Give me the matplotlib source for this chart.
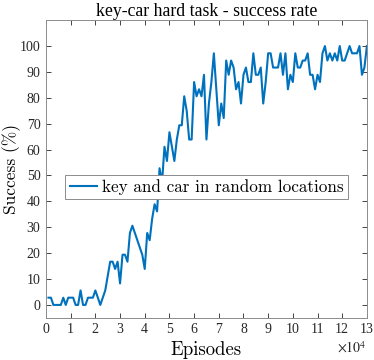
import numpy as np
import matplotlib
matplotlib.use("Agg")
import matplotlib.pyplot as plt
from matplotlib.ticker import FuncFormatter

# success rate (%), one point every 1000 episodes
episodes = np.arange(1, 131) * 1000
success = [
    2.8, 2.8, 0, 0, 0, 0, 2.8, 0, 2.8, 2.8,
    2.8, 0, 0, 5.6, 0, 0, 2.8, 2.8, 2.8, 5.6,
    2.8, 0, 2.8, 5.6, 11.1, 16.7, 16.7, 13.9, 16.7, 8.3,
    19.4, 19.4, 16.7, 27.8, 30.6, 27.8, 25.0, 22.2, 19.4, 13.9,
    27.8, 25.0, 33.3, 38.9, 36.1, 52.8, 47.2, 61.1, 55.6, 66.7,
    61.1, 55.6, 63.9, 69.4, 69.4, 80.6, 75.0, 63.9, 63.9, 86.1,
    80.6, 83.3, 80.6, 88.9, 63.9, 77.8, 86.1, 97.2, 83.3, 69.4,
    77.8, 72.2, 94.4, 88.9, 94.4, 91.7, 83.3, 86.1, 77.8, 88.9,
    91.7, 86.1, 86.1, 97.2, 88.9, 88.9, 91.7, 77.8, 86.1, 97.2,
    97.2, 91.7, 91.7, 91.7, 97.2, 88.9, 97.2, 83.3, 88.9, 86.1,
    97.2, 91.7, 91.7, 94.4, 94.4, 97.2, 88.9, 88.9, 83.3, 88.9,
    86.1, 97.2, 100, 94.4, 97.2, 94.4, 97.2, 94.4, 100, 94.4,
    94.4, 97.2, 100, 97.2, 97.2, 97.2, 100, 88.9, 91.7, 100,
]
xticks = np.arange(0, 14) * 10000
yticks = np.arange(0, 101, 10)

serif = ["Liberation Serif", "DejaVu Serif"]
cm = ["cmr10", "DejaVu Serif"]
axcol = "#262626"

fig = plt.figure(figsize=(3.74, 3.6), dpi=100)
ax = fig.add_axes([0.123, 0.117, 0.858, 0.827])

ax.plot(episodes, success, color="#0072BD", linewidth=1.5,
        label="key and car in random locations")

ax.set_xlim(0, 130000)
ax.set_ylim(-5, 110)
ax.set_xticks(xticks)
ax.set_yticks(yticks)
ax.xaxis.set_major_formatter(FuncFormatter(lambda v, p: "%d" % round(v / 10000)))

ax.tick_params(direction="in", length=3.5, width=0.6, top=True, right=True,
               colors=axcol, labelsize=10, pad=4)
for lab in ax.get_xticklabels() + ax.get_yticklabels():
    lab.set_family(serif)
for s in ax.spines.values():
    s.set_color("#8c8c8c")
    s.set_linewidth(0.7)

ax.set_title("key-car hard task - success rate", family=serif, fontsize=12.8,
             color="black", pad=3)
ax.set_xlabel("Episodes", family=cm, fontsize=13.5, labelpad=3)
ax.set_ylabel("Success (%)", family=cm, fontsize=12.5, labelpad=0)
ax.yaxis.set_label_coords(-0.077, 0.5)
ax.text(1.0, -0.075, r"$\times10^{4}$", transform=ax.transAxes,
        ha="right", va="top", fontsize=10, color=axcol,
        math_fontfamily="stix")

leg = ax.legend(loc="center left", bbox_to_anchor=(0.06, 0.44),
                prop={"family": cm, "size": 12.3}, fancybox=False,
                framealpha=1, borderpad=0.25, handlelength=1.6,
                handletextpad=0.3, borderaxespad=0)
leg.get_frame().set_edgecolor("#8c8c8c")
leg.get_frame().set_linewidth(0.7)

fig.savefig("out.png", dpi=100)
